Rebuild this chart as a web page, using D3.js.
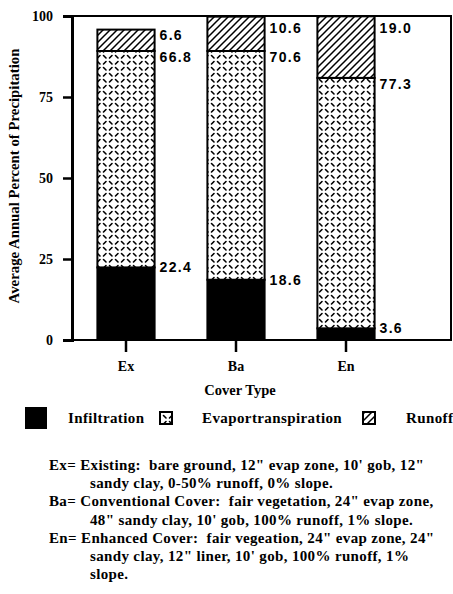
<!DOCTYPE html>
<html>
<head>
<meta charset="utf-8">
<script src="https://cdn.jsdelivr.net/npm/d3@7"></script>
<style>
  body { margin: 0; background: #fff; }
  svg { display: block; }
  .serif { font-family: "Liberation Serif", "DejaVu Serif", serif; font-weight: bold; }
  .val { font-family: "Liberation Sans", Arial, sans-serif; font-weight: bold; font-size: 14px; letter-spacing: 1.3px; }
</style>
</head>
<body>
<svg id="drawing-area"></svg>
<script>
// chart values
var covers = ["Ex", "Ba", "En"];
var infiltration = [22.4, 18.6, 3.6];
var evapotranspiration = [66.8, 70.6, 77.3];
var runoff = [6.6, 10.6, 19.0];
var yTicks = [0, 25, 50, 75, 100];
var legendNames = ["Infiltration", "Evaportranspiration", "Runoff"];
var notes = [
  ["Ex= Existing:  bare ground, 12\" evap zone, 10' gob, 12\"", 0],
  ["sandy clay, 0-50% runoff, 0% slope.", 1],
  ["Ba= Conventional Cover:  fair vegetation, 24\" evap zone,", 0],
  ["48\" sandy clay, 10' gob, 100% runoff, 1% slope.", 1],
  ["En= Enhanced Cover:  fair vegeation, 24\" evap zone, 24\"", 0],
  ["sandy clay, 12\" liner, 10' gob, 100% runoff, 1%", 1],
  ["slope.", 1]
];

var width = 453;
var height = 594;
var svg = d3.select("#drawing-area")
    .attr("width", width)
    .attr("height", height);

// patterns for the hatched segments
var defs = svg.append("defs");
var et = defs.append("pattern")
    .attr("id", "et")
    .attr("patternUnits", "userSpaceOnUse")
    .attr("width", 12).attr("height", 12);
et.append("rect").attr("width", 12).attr("height", 12).attr("fill", "#fff");
[[1.5, 1.5, 4, 4], [7.5, 4, 10, 1.5], [1.5, 10, 4, 7.5], [7.5, 7.5, 10, 10]].forEach(function(s){
    et.append("line")
        .attr("x1", s[0]).attr("y1", s[1]).attr("x2", s[2]).attr("y2", s[3])
        .attr("stroke", "#000").attr("stroke-width", 1.6).attr("stroke-linecap", "round");
});
var ro = defs.append("pattern")
    .attr("id", "ro")
    .attr("patternUnits", "userSpaceOnUse")
    .attr("width", 7).attr("height", 7);
ro.append("rect").attr("width", 7).attr("height", 7).attr("fill", "#fff");
ro.append("path")
    .attr("d", "M-1,8 L8,-1 M-1,1 L1,-1 M6,8 L8,6")
    .attr("stroke", "#000").attr("stroke-width", 1.5);

var fills = ["#000", "url(#et)", "url(#ro)"];

var yScale = d3.scaleLinear()
    .domain([0, 100])
    .range([340, 16]);

var xScale = d3.scaleBand()
    .domain(covers)
    .range([71, 401])
    .paddingInner(0.48)
    .paddingOuter(0.24);

var rows = covers.map(function(c, i){
    return {cover: c, inf: infiltration[i], et: evapotranspiration[i], ro: runoff[i]};
});
var keys = ["inf", "et", "ro"];
var series = d3.stack().keys(keys)(rows);

// frame
svg.append("rect")
    .attr("x", 72).attr("y", yScale(100))
    .attr("width", 451 - 72).attr("height", yScale(0) - yScale(100))
    .attr("fill", "none").attr("stroke", "#000").attr("stroke-width", 2);

// bars
series.forEach(function(s, k){
    svg.append("g").selectAll("rect")
        .data(s)
        .enter()
        .append("rect")
        .attr("x", function(d){ return xScale(d.data.cover); })
        .attr("y", function(d){ return yScale(d[1]); })
        .attr("width", xScale.bandwidth())
        .attr("height", function(d){ return yScale(d[0]) - yScale(d[1]); })
        .attr("fill", fills[k])
        .attr("stroke", "#000")
        .attr("stroke-width", 2);
});

// value labels
series.forEach(function(s, k){
    svg.append("g").selectAll("text")
        .data(s)
        .enter()
        .append("text")
        .attr("class", "val")
        .attr("x", function(d){ return xScale(d.data.cover) + xScale.bandwidth() + 5; })
        .attr("y", function(d){
            if (k == 0) return yScale(d[1]);
            if (k == 1) return yScale(d[1]) + 6;
            return Math.max(yScale(d[1]) + 5, yScale(100) + 12);
        })
        .attr("dy", "0.36em")
        .text(function(d){ return (d[1] - d[0]).toFixed(1); });
});

// axes
var yAxis = d3.axisLeft(yScale)
    .tickValues(yTicks)
    .tickSize(9)
    .tickPadding(10);
var gy = svg.append("g")
    .attr("transform", "translate(72,0)")
    .call(yAxis);
gy.select(".domain").attr("stroke-width", 3);
gy.selectAll(".tick line").attr("stroke-width", 2.5);
gy.selectAll("text").attr("font-size", 14).attr("font-family", "Liberation Serif").attr("font-weight", "bold");

var xAxis = d3.axisBottom(xScale)
    .tickSize(12)
    .tickSizeOuter(0)
    .tickPadding(9);
var gx = svg.append("g")
    .attr("transform", "translate(0,340)")
    .call(xAxis);
gx.select(".domain").remove();
gx.selectAll(".tick line").attr("stroke-width", 2.5);
gx.selectAll("text").attr("font-size", 14).attr("font-family", "Liberation Serif").attr("font-weight", "bold");

svg.append("text")
    .attr("class", "serif")
    .attr("font-size", 14.8)
    .attr("text-anchor", "middle")
    .attr("transform", "translate(19,176) rotate(-90)")
    .text("Average Annual Percent of Precipitation");

svg.append("text")
    .attr("class", "serif")
    .attr("font-size", 14.5)
    .attr("text-anchor", "middle")
    .attr("x", 240).attr("y", 395)
    .text("Cover Type");

// legend
var legendX = [[26, 68, 20], [160, 202, 12], [363, 406, 12]];
legendNames.forEach(function(n, k){
    var lx = legendX[k];
    svg.append("rect")
        .attr("x", lx[0]).attr("y", 418 - lx[2] / 2)
        .attr("width", lx[2]).attr("height", lx[2])
        .attr("fill", fills[k])
        .attr("stroke", "#000").attr("stroke-width", 2);
    svg.append("text")
        .attr("class", "serif")
        .attr("font-size", 15)
        .attr("letter-spacing", 0.4)
        .attr("x", lx[1]).attr("y", 423)
        .text(n);
});

// notes
svg.append("g").selectAll("text")
    .data(notes)
    .enter()
    .append("text")
    .attr("class", "serif")
    .attr("font-size", 15)
    .attr("letter-spacing", 0.35)
    .attr("x", function(d){ return d[1] ? 90 : 49; })
    .attr("y", function(d, i){ return 470 + i * 18.2; })
    .style("white-space", "pre")
    .text(function(d){ return d[0]; });
</script>
</body>
</html>
